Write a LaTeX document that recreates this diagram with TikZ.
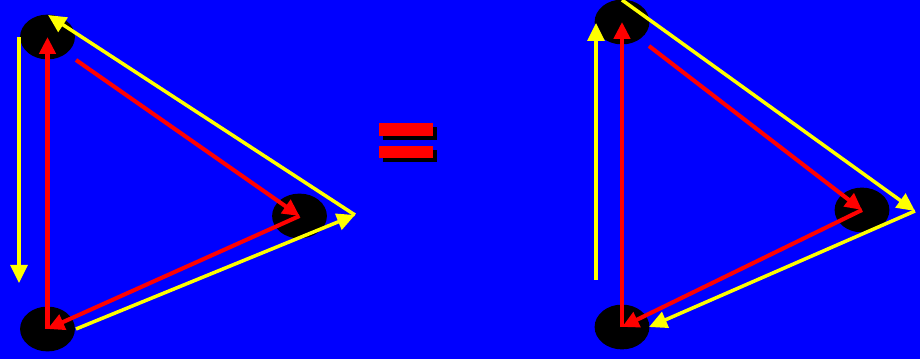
\documentclass[tikz,border=0pt]{standalone}
\usetikzlibrary{arrows.meta,shapes.geometric}
\definecolor{bgblue}{RGB}{0,0,255}
\definecolor{arryel}{RGB}{255,255,0}
\tikzset{
  blob/.style={ellipse,fill=black,minimum width=1.37cm,minimum height=1.12cm,inner sep=0pt},
  redln/.style={-{Triangle[length=4.2mm,width=4mm]},line width=2.9pt,red},
  yelln/.style={-{Triangle[length=4.5mm,width=4.2mm]},line width=2.5pt,arryel},
  eqbar/.style={fill=red},
  eqshd/.style={fill=black},
}
\begin{document}
\begin{tikzpicture}[x=0.025cm,y=-0.025cm]
  % background
  \fill[bgblue] (0,0) rectangle (920,359);
  \useasboundingbox (0,0) rectangle (920,359);
  % left: three vertices, red cycle inside, yellow cycle outside
  \node[blob] (lt) at (47.5,37) {};
  \node[blob] (lr) at (299.5,216) {};
  \node[blob] (lb) at (47.5,329) {};
  \coordinate (lrs) at (76,60);
  \coordinate (lya) at (19,37);
  \coordinate (lyb) at (19,283);
  \coordinate (lyt) at (48,15);
  \coordinate (lyr) at (355,215);
  \coordinate (lys) at (76,329);
  \draw[redln] (lb.center) -- (lt.center);
  \draw[redln] (lrs) -- (lr.center);
  \draw[redln] (lr.center) -- (lb.center);
  \draw[yelln] (lya) -- (lyb);
  \draw[yelln] (lyr) -- (lyt);
  \draw[yelln] (lys) -- (lyr);
  % equals sign with shadow
  \fill[eqshd] (383,127) rectangle (437,140);
  \fill[eqbar] (379,123) rectangle (433,136);
  \fill[eqshd] (383,150) rectangle (437,162);
  \fill[eqbar] (379,146) rectangle (433,158);
  % right: same vertices, yellow cycle reversed
  \begin{scope}
    \node[blob] (rt) at (622,22) {};
    \node[blob] (rr) at (862,210) {};
    \node[blob] (rb) at (622,327) {};
    \coordinate (rrs) at (649,46);
    \coordinate (rya) at (596,280);
    \coordinate (ryb) at (596,23);
    \coordinate (ryt) at (622,0);
    \coordinate (ryr) at (915,211);
    \coordinate (rys) at (649,327);
    \draw[redln] (rb.center) -- (rt.center);
    \draw[redln] (rrs) -- (rr.center);
    \draw[redln] (rr.center) -- (rb.center);
    \draw[yelln] (rya) -- (ryb);
    \draw[yelln] (ryt) -- (ryr);
    \draw[yelln] (ryr) -- (rys);
  \end{scope}
\end{tikzpicture}
\end{document}
